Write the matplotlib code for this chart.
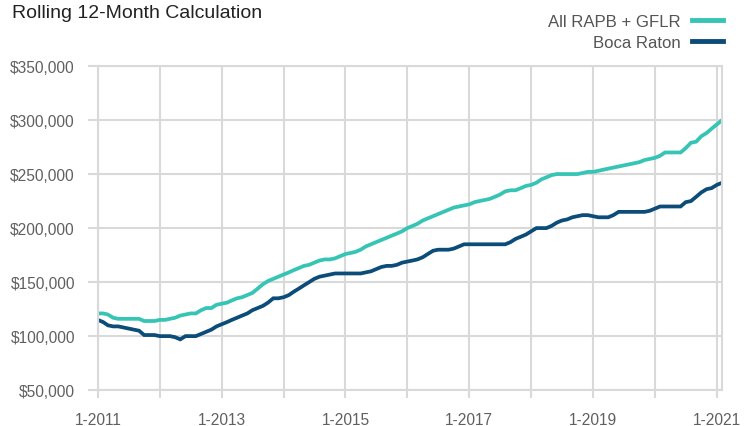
import matplotlib
matplotlib.use("Agg")
import matplotlib.pyplot as plt
import matplotlib.dates as mdates
import matplotlib.ticker as mticker
import pandas as pd

plt.rcParams['font.family'] = ['Liberation Sans', 'DejaVu Sans']

# monthly values, Jan 2011 .. Feb 2021 (thousands of $)
all_rapb = [
    121, 121, 120, 117, 116, 116, 116, 116, 116, 114, 114, 114,   # 2011
    115, 115, 116, 117, 119, 120, 121, 121, 124, 126, 126, 129,   # 2012
    130, 131, 133, 135, 136, 138, 140, 144, 148, 151, 153, 155,   # 2013
    157, 159, 161, 163, 165, 166, 168, 170, 171, 171, 172, 174,   # 2014
    176, 177, 178, 180, 183, 185, 187, 189, 191, 193, 195, 197,   # 2015
    200, 202, 204, 207, 209, 211, 213, 215, 217, 219, 220, 221,   # 2016
    222, 224, 225, 226, 227, 229, 231, 234, 235, 235, 237, 239,   # 2017
    240, 242, 245, 247, 249, 250, 250, 250, 250, 250, 251, 252,   # 2018
    252, 253, 254, 255, 256, 257, 258, 259, 260, 261, 263, 264,   # 2019
    265, 267, 270, 270, 270, 270, 274, 279, 280, 285, 288, 292,   # 2020
    296, 300,                                                     # 2021
]
boca_raton = [
    115, 113, 110, 109, 109, 108, 107, 106, 105, 101, 101, 101,   # 2011
    100, 100, 100, 99, 97, 100, 100, 100, 102, 104, 106, 109,     # 2012
    111, 113, 115, 117, 119, 121, 124, 126, 128, 131, 135, 135,   # 2013
    136, 138, 141, 144, 147, 150, 153, 155, 156, 157, 158, 158,   # 2014
    158, 158, 158, 158, 159, 160, 162, 164, 165, 165, 166, 168,   # 2015
    169, 170, 171, 173, 176, 179, 180, 180, 180, 181, 183, 185,   # 2016
    185, 185, 185, 185, 185, 185, 185, 185, 187, 190, 192, 194,   # 2017
    197, 200, 200, 200, 202, 205, 207, 208, 210, 211, 212, 212,   # 2018
    211, 210, 210, 210, 212, 215, 215, 215, 215, 215, 215, 216,   # 2019
    218, 220, 220, 220, 220, 220, 224, 225, 229, 233, 236, 237,   # 2020
    240, 242,                                                     # 2021
]
months = pd.date_range('2011-01-01', periods=len(all_rapb), freq='MS')
series_names = ['All RAPB + GFLR', 'Boca Raton']
colors = ['#36c4b5', '#0b4c78']

fig = plt.figure(figsize=(7.53, 4.27), dpi=100)
ax = fig.add_axes([0.130, 0.084, 0.829, 0.759])

for vals, name, c in zip([all_rapb, boca_raton], series_names, colors):
    ax.plot(months, [v * 1000 for v in vals], color=c, lw=2.7, label=name,
            solid_joinstyle='miter')

grid_c = '#d9d9d9'
ax.set_ylim(50000, 350000)
ax.set_xlim(months[0], months[-1])
ax.yaxis.set_major_locator(mticker.MultipleLocator(50000))
ax.yaxis.set_major_formatter(mticker.FuncFormatter(lambda v, p: '${:,.0f}'.format(v)))
ax.xaxis.set_major_locator(mdates.YearLocator(1))
ax.xaxis.set_major_formatter(mticker.FuncFormatter(
    lambda v, p: '1-%d' % mdates.num2date(v).year if mdates.num2date(v).year % 2 == 1 else ''))
ax.grid(True, color=grid_c, lw=1.5)
ax.set_axisbelow(True)
for s in ax.spines.values():
    s.set_color(grid_c)
    s.set_linewidth(1.5)
ax.tick_params(axis='both', colors=grid_c, labelcolor='#606060', labelsize=11.2, width=1.5)
ax.tick_params(axis='y', length=7.5, pad=9)
ax.tick_params(axis='x', length=6, pad=9.5)

fig.text(0.0155, 0.958, 'Rolling 12-Month Calculation', fontsize=14, color='#222222',
         ha='left', va='baseline')

leg = fig.legend(loc='upper right', bbox_to_anchor=(0.960, 0.965), frameon=False,
                 fontsize=12.1, markerfirst=False, handlelength=1.85, handletextpad=0.65,
                 labelspacing=0.34, borderaxespad=0, borderpad=0)
for t in leg.get_texts():
    t.set_color('#555555')
for l in leg.get_lines():
    l.set_linewidth(3.5)

fig.savefig('out.png', dpi=100)
